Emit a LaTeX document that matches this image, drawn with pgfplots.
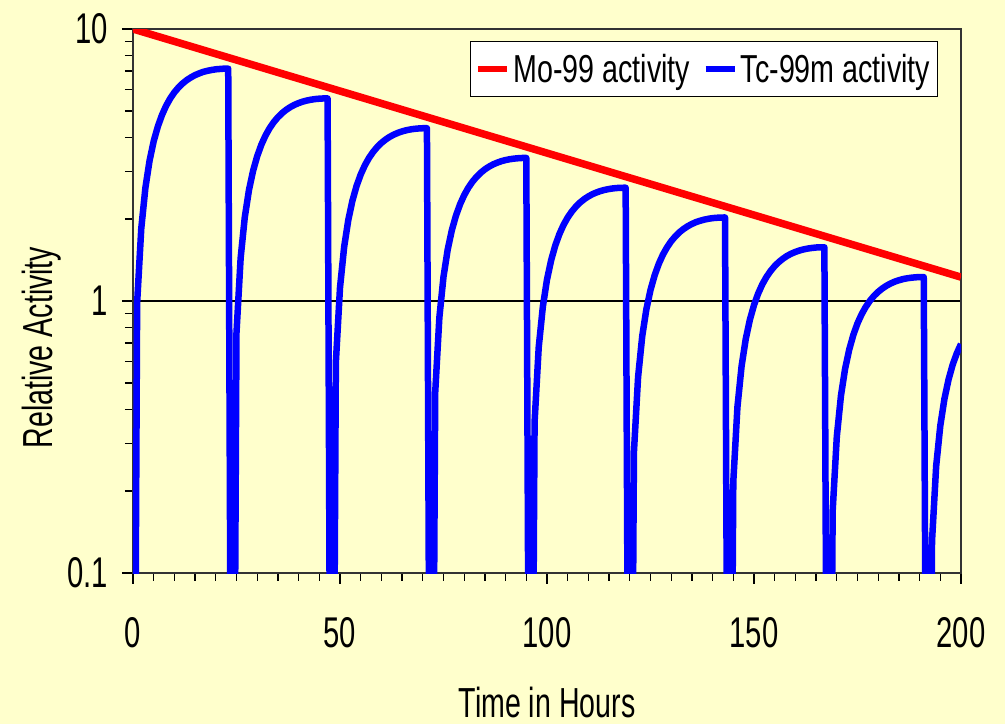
\documentclass[border=0pt]{standalone}
\usepackage{fontspec}
\setmainfont[FakeStretch=0.68]{Liberation Sans}
\newfontfamily\legendfont[FakeStretch=0.735]{Liberation Sans}
\usepackage{pgfplots}
\pgfplotsset{compat=1.18}
\definecolor{bgyellow}{HTML}{FFFFCC}

\begin{document}
\begin{tikzpicture}
\fill[bgyellow] (-133pt,-151pt) rectangle (872pt,573pt);
\begin{axis}[
  at={(0pt,0pt)}, anchor=south west,
  scale only axis, width=828pt, height=544pt,
  ymode=log,
  xmin=0, xmax=200, ymin=0.1, ymax=10,
  xtick={0,50,...,200},
  minor x tick num=9,
  ytick={0.1,1,10}, yticklabels={0.1,1,10},
  tick pos=left, tick align=outside,
  major tick length=11pt, minor tick length=8pt,
  tick style={black, line width=1.3pt},
  axis line style={black!80, line width=1.5pt},
  ymajorgrids, major grid style={black, line width=1.2pt},
  /pgf/number format/assume math mode=true,
  ticklabel style={font=\fontsize{43}{50}\selectfont},
  xticklabel style={anchor=base, inner sep=0pt, yshift=-64pt},
  yticklabel style={anchor=east, inner sep=0pt, xshift=-14pt},
  xlabel={Time in Hours},
  ylabel={Relative Activity},
  label style={font=\fontsize{42}{50}\selectfont},
  xlabel style={at={(rel axis cs:0.5,-0.2647)}, anchor=base, inner sep=0pt},
  ylabel style={at={(rel axis cs:-0.097,0.4145)}, anchor=base, inner sep=0pt},
  legend columns=2,
  legend style={at={(rel axis cs:0.972,0.978)}, anchor=north east,
    draw=black, line width=1pt, fill=white, inner xsep=4pt, inner ysep=5pt,
    font=\legendfont\fontsize{39}{44}\selectfont,
    nodes={inner xsep=3pt, inner ysep=7.5pt},
    /tikz/every even column/.append style={column sep=9pt}},
  legend image code/.code={\draw[#1, line width=6.5pt] (0pt,0pt) -- (29pt,0pt);},
]
\addplot[red, line width=7.5pt] coordinates {
  (0,10) (50,5.916) (100,3.499) (150,2.070) (200,1.224)};
\addplot[blue, line width=6.5pt, line join=round] coordinates {
  (0,0.001) (1,0.985) (2,1.85) (3,2.61) (4,3.28) (5,3.87) (6,4.38) (7,4.83) (8,5.22) (9,5.56) (10,5.85) (11,6.10) (12,6.31) (13,6.49) (14,6.64) (15,6.77) (16,6.87) (17,6.96) (18,7.02) (19,7.07) (20,7.11) (21,7.13) (22,7.15) (23,7.15)
  (24,0.001) (25,0.765) (26,1.439) (27,2.032) (28,2.553) (29,3.008) (30,3.407) (31,3.755) (32,4.057) (33,4.319) (34,4.545) (35,4.738) (36,4.905) (37,5.045) (38,5.163) (39,5.262) (40,5.342) (41,5.407) (42,5.459) (43,5.497) (44,5.526) (45,5.544) (46,5.555) (47,5.557)
  (48,0.001) (49,0.595) (50,1.119) (51,1.579) (52,1.984) (53,2.338) (54,2.648) (55,2.918) (56,3.153) (57,3.357) (58,3.532) (59,3.683) (60,3.812) (61,3.921) (62,4.013) (63,4.090) (64,4.152) (65,4.203) (66,4.243) (67,4.273) (68,4.295) (69,4.309) (70,4.317) (71,4.319)
  (72,0.001) (73,0.462) (74,0.869) (75,1.228) (76,1.542) (77,1.817) (78,2.058) (79,2.268) (80,2.451) (81,2.609) (82,2.746) (83,2.862) (84,2.963) (85,3.048) (86,3.119) (87,3.179) (88,3.227) (89,3.267) (90,3.298) (91,3.321) (92,3.338) (93,3.349) (94,3.356) (95,3.357)
  (96,0.001) (97,0.359) (98,0.676) (99,0.954) (100,1.199) (101,1.412) (102,1.600) (103,1.763) (104,1.905) (105,2.028) (106,2.134) (107,2.225) (108,2.303) (109,2.369) (110,2.424) (111,2.471) (112,2.508) (113,2.539) (114,2.563) (115,2.581) (116,2.595) (117,2.603) (118,2.608) (119,2.609)
  (120,0.001) (121,0.279) (122,0.525) (123,0.742) (124,0.932) (125,1.098) (126,1.243) (127,1.370) (128,1.481) (129,1.576) (130,1.659) (131,1.729) (132,1.790) (133,1.841) (134,1.884) (135,1.920) (136,1.950) (137,1.973) (138,1.992) (139,2.006) (140,2.017) (141,2.023) (142,2.027) (143,2.028)
  (144,0.001) (145,0.217) (146,0.408) (147,0.576) (148,0.724) (149,0.853) (150,0.966) (151,1.065) (152,1.151) (153,1.225) (154,1.289) (155,1.344) (156,1.391) (157,1.431) (158,1.465) (159,1.493) (160,1.515) (161,1.534) (162,1.548) (163,1.559) (164,1.567) (165,1.573) (166,1.576) (167,1.576)
  (168,0.001) (169,0.169) (170,0.317) (171,0.448) (172,0.563) (173,0.663) (174,0.751) (175,0.828) (176,0.894) (177,0.952) (178,1.002) (179,1.045) (180,1.081) (181,1.112) (182,1.138) (183,1.160) (184,1.178) (185,1.192) (186,1.204) (187,1.212) (188,1.218) (189,1.222) (190,1.225) (191,1.225)
  (192,0.001) (193,0.131) (194,0.247) (195,0.348) (196,0.437) (197,0.515) (198,0.584) (199,0.643) (200,0.695)};
\legend{Mo-99 activity, Tc-99m activity}
\end{axis}
\pgfresetboundingbox
\path (-133pt,-151pt) rectangle (872pt,573pt);
\end{tikzpicture}
\end{document}
